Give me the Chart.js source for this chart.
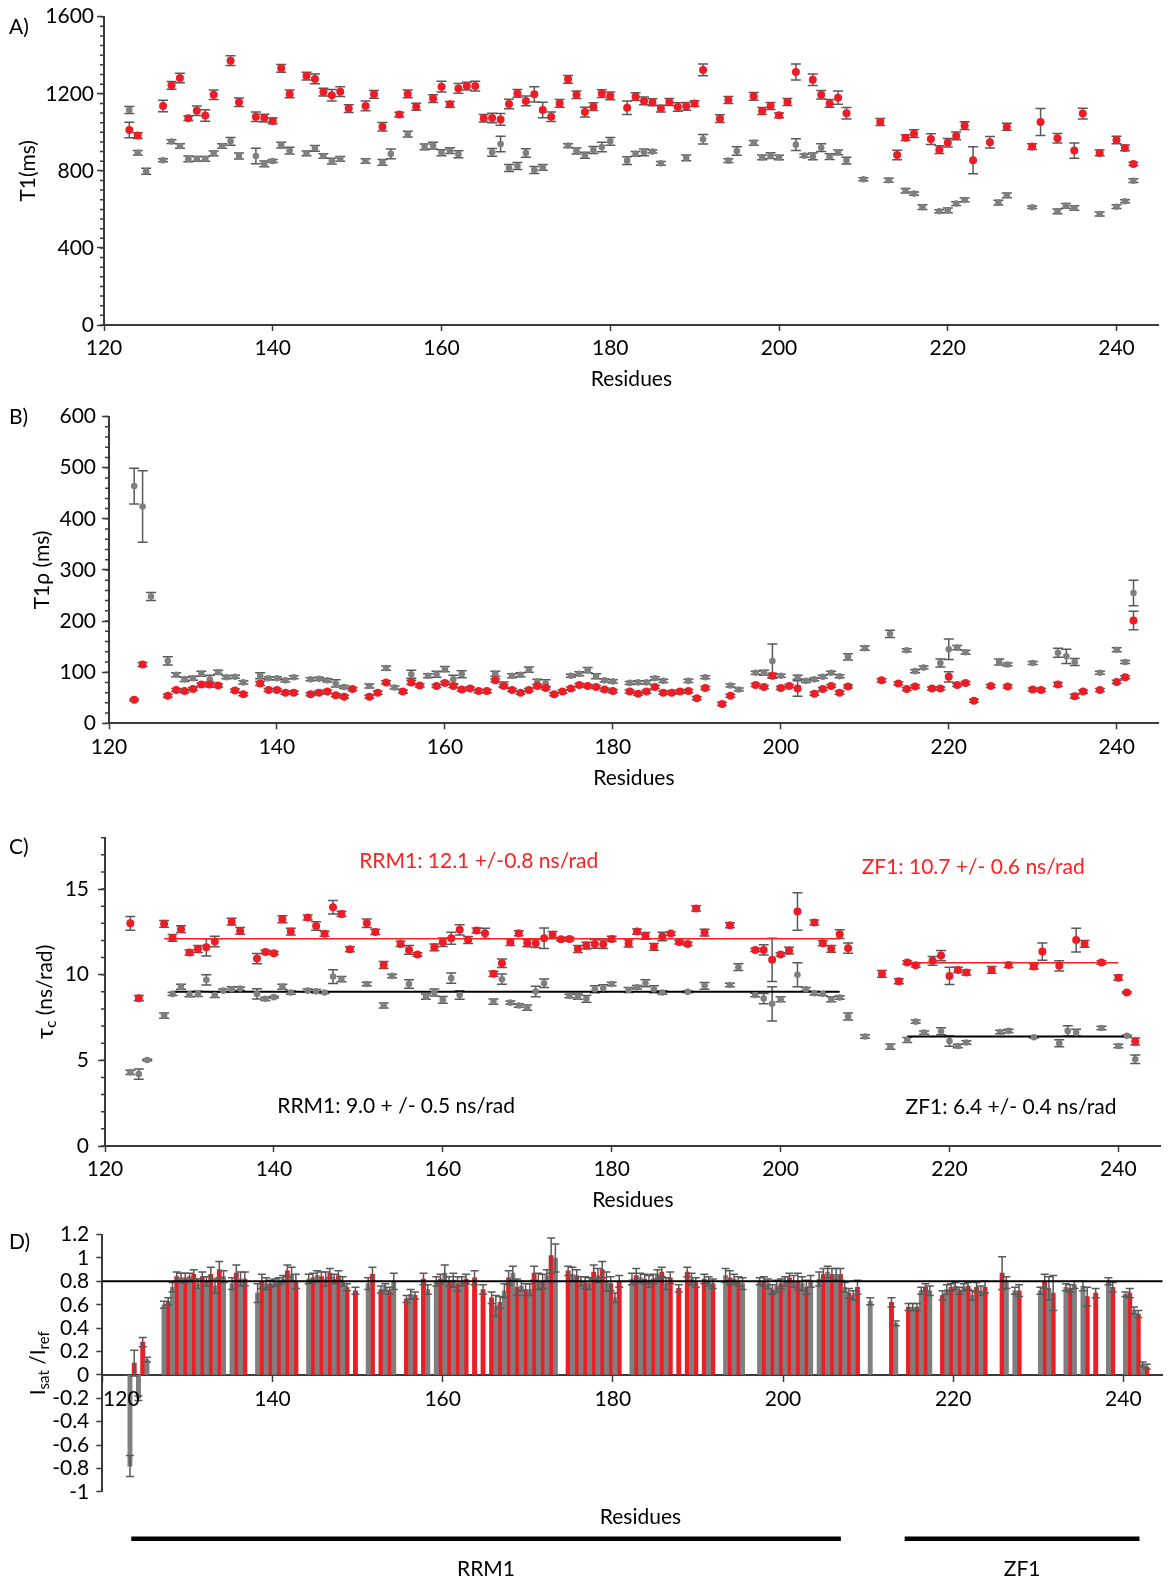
<!DOCTYPE html>
<html>
<head>
<meta charset="utf-8">
<script src="https://cdn.jsdelivr.net/npm/chart.js@4.4.1/dist/chart.umd.min.js"></script>
<style>
  body { margin: 0; background: #fff; width: 1173px; height: 1580px; position: relative; overflow: hidden; }
  canvas { position: absolute; left: 0; }
</style>
</head>
<body>
<canvas id="chartA" width="1173" height="398" style="top:0"></canvas>
<canvas id="chartB" width="1173" height="397" style="top:398px"></canvas>
<canvas id="chartC" width="1173" height="420" style="top:795px"></canvas>
<canvas id="chartD" width="1173" height="365" style="top:1215px"></canvas>
<script>
// ---- data: [residue, value, error] ----

// A) T1 (ms)
const t1Red = [
  [123,1012,40],[124,983,15],[127,1137,30],[128,1244,20],[129,1282,25],[130,1073,12],[131,1112,25],
  [132,1087,30],[133,1195,25],[135,1372,25],[136,1156,22],[138,1081,25],[139,1074,20],[140,1059,15],
  [141,1332,20],[142,1199,20],[144,1292,20],[145,1277,25],[146,1209,20],[147,1192,30],[148,1211,25],
  [149,1123,20],[151,1137,25],[152,1197,20],[153,1029,22],[155,1092,12],[156,1199,20],[157,1133,18],
  [159,1175,20],[160,1237,28],[161,1145,15],[162,1228,25],[163,1240,20],[164,1240,25],[165,1073,20],
  [166,1074,25],[167,1067,30],[168,1147,25],[169,1202,20],[170,1163,25],[171,1197,40],[172,1116,40],
  [173,1081,25],[174,1150,20],[175,1275,20],[176,1195,20],[177,1105,25],[178,1133,20],[179,1201,20],
  [180,1189,20],[182,1128,35],[183,1185,20],[184,1163,20],[185,1156,18],[186,1123,18],[187,1157,18],
  [188,1131,22],[189,1135,20],[190,1149,15],[191,1324,30],[193,1071,20],[194,1168,18],[197,1187,20],
  [198,1111,18],[199,1137,18],[200,1088,12],[201,1157,18],[202,1313,42],[204,1273,30],[205,1195,22],
  [206,1150,20],[207,1180,35],[208,1099,30],[212,1054,18],[214,882,25],[215,972,15],[216,993,20],
  [218,965,28],[219,910,20],[220,946,22],[221,981,20],[222,1035,20],[223,855,70],[225,948,30],
  [227,1029,18],[230,926,15],[231,1054,70],[233,969,25],[235,905,40],[236,1097,28],[238,893,15],
  [240,960,20],[241,919,15],[242,836,8]
];
const t1Grey = [
  [123,1116,18],[124,894,12],[125,798,15],[127,855,8],[128,952,10],[129,929,12],[130,862,15],
  [131,862,12],[132,862,12],[133,891,12],[134,929,12],[135,953,20],[136,877,15],[138,877,40],
  [139,836,15],[140,851,8],[141,934,15],[142,905,18],[144,891,12],[145,917,15],[146,877,12],
  [147,851,15],[148,862,12],[151,851,12],[153,844,15],[154,888,25],[156,991,15],[158,924,15],
  [159,931,18],[160,894,15],[161,905,15],[162,886,18],[166,896,20],[167,939,40],[168,815,18],
  [169,825,18],[170,893,22],[171,804,18],[172,818,15],[175,931,10],[176,903,15],[177,881,15],
  [178,908,18],[179,924,25],[180,953,20],[182,853,20],[183,888,12],[184,896,18],[185,900,8],
  [186,839,10],[189,867,15],[191,964,25],[194,853,10],[195,903,22],[197,945,12],[198,870,12],
  [199,879,15],[200,869,12],[202,936,30],[203,879,8],[204,875,18],[205,920,20],[206,874,15],
  [207,896,12],[208,853,18],[210,756,8],[213,751,10],[215,697,12],[216,682,8],[217,612,12],
  [219,590,8],[220,595,12],[221,630,10],[222,649,10],[226,635,12],[227,673,12],[230,611,6],
  [233,590,12],[234,618,12],[235,607,12],[238,576,10],[240,614,10],[241,642,8],[242,749,10]
];

// B) T1rho (ms)
const t1rhoRed = [
  [123,46,2],[124,115,4],[127,54,3],[128,65,3],[129,63,3],[130,67,3],[131,76,3],[132,76,5],
  [133,74,3],[135,64,3],[136,57,3],[138,78,4],[139,65,3],[140,65,3],[141,60,3],[142,60,3],
  [144,57,3],[145,60,3],[146,62,3],[147,55,3],[148,52,3],[149,67,3],[151,52,3],[152,60,3],
  [153,80,3],[155,62,3],[156,80,4],[157,74,3],[159,73,3],[160,79,3],[161,73,3],[162,66,3],
  [163,68,3],[164,63,3],[165,63,3],[166,84,3],[167,73,3],[168,65,3],[169,60,3],[170,65,3],
  [171,73,3],[172,69,3],[173,57,3],[174,62,3],[175,68,3],[176,75,3],[177,73,3],[178,71,3],
  [179,66,3],[180,63,3],[182,62,3],[183,58,3],[184,62,3],[185,71,3],[186,60,3],[187,60,3],
  [188,62,3],[189,63,3],[190,49,3],[191,69,3],[193,38,3],[194,54,3],[197,75,3],[198,71,3],
  [199,93,5],[200,69,3],[201,73,3],[202,68,15],[204,58,3],[205,67,3],[206,73,3],[207,60,3],
  [208,72,3],[212,84,3],[214,78,3],[215,67,3],[216,72,3],[218,68,3],[219,68,3],[220,91,10],
  [221,75,3],[222,79,3],[223,44,3],[225,73,3],[227,72,3],[230,66,3],[231,65,3],[233,76,4],
  [235,53,4],[236,62,3],[238,65,3],[240,81,3],[241,90,3],[242,201,18]
];
const t1rhoGrey = [
  [123,464,35],[124,424,70],[125,248,8],[127,122,8],[128,95,4],[129,86,4],[130,88,4],[131,97,5],
  [132,86,8],[133,100,4],[134,90,3],[135,91,3],[136,80,3],[138,93,6],[139,88,3],[140,88,3],
  [141,84,3],[142,90,3],[144,86,3],[145,87,3],[146,84,3],[147,78,7],[148,71,3],[151,73,4],
  [153,108,4],[154,70,3],[156,96,8],[158,93,4],[159,96,6],[160,106,5],[161,86,8],[162,96,7],
  [166,97,5],[167,76,5],[168,93,4],[169,95,4],[170,105,5],[171,81,5],[172,78,7],[175,93,3],
  [176,97,4],[177,104,5],[178,92,5],[179,84,3],[180,82,3],[182,79,3],[183,80,3],[184,80,3],
  [185,88,3],[186,83,3],[189,83,3],[191,90,3],[194,74,3],[195,66,3],[197,99,3],[198,99,5],
  [199,122,33],[200,93,3],[202,90,4],[203,83,3],[204,86,3],[205,91,3],[206,99,3],[207,92,3],
  [208,130,6],[210,147,4],[213,175,7],[215,143,3],[216,102,3],[217,109,3],[219,118,8],
  [220,145,20],[221,148,4],[222,139,4],[226,120,6],[227,115,3],[230,118,3],[233,138,9],
  [234,131,14],[235,120,7],[238,99,3],[240,144,4],[241,120,3],[242,255,25]
];

// C) tau_c (ns/rad)
const tcRed = [
  [123,13.0,0.4],[124,8.63,0.15],[127,12.97,0.2],[128,12.15,0.2],[129,12.66,0.2],[130,11.3,0.15],
  [131,11.5,0.2],[132,11.6,0.5],[133,11.94,0.3],[135,13.1,0.2],[136,12.56,0.2],[138,10.94,0.3],
  [139,11.33,0.1],[140,11.26,0.1],[141,13.24,0.2],[142,12.52,0.2],[144,13.34,0.15],[145,12.85,0.25],
  [146,12.39,0.15],[147,13.94,0.4],[148,13.55,0.15],[149,11.49,0.15],[151,13.0,0.25],[152,12.5,0.15],
  [153,10.57,0.2],[155,11.8,0.15],[156,11.45,0.25],[157,11.18,0.1],[159,11.6,0.2],[160,11.9,0.25],
  [161,12.13,0.35],[162,12.62,0.3],[163,12.03,0.2],[164,12.58,0.15],[165,12.42,0.3],[166,10.05,0.15],
  [167,10.67,0.25],[168,11.9,0.2],[169,12.42,0.15],[170,11.84,0.2],[171,11.84,0.25],[172,12.13,0.6],
  [173,12.33,0.2],[174,12.07,0.1],[175,12.09,0.1],[176,11.5,0.2],[177,11.7,0.2],[178,11.8,0.25],
  [179,11.78,0.25],[180,12.09,0.15],[182,11.82,0.2],[183,12.52,0.15],[184,12.27,0.2],[185,11.63,0.2],
  [186,12.23,0.25],[187,12.4,0.1],[188,11.9,0.1],[189,11.8,0.1],[190,13.87,0.15],[191,12.46,0.2],
  [194,12.89,0.15],[197,11.45,0.1],[198,11.45,0.3],[199,10.87,1.26],[200,11.18,0.1],[201,11.41,0.2],
  [202,13.69,1.1],[204,13.05,0.15],[205,11.84,0.15],[206,11.51,0.2],[207,12.37,0.25],[208,11.55,0.3],
  [212,10.05,0.2],[214,9.62,0.15],[215,10.71,0.1],[216,10.55,0.1],[218,10.81,0.25],[219,11.12,0.3],
  [220,9.93,0.5],[221,10.28,0.15],[222,10.13,0.15],[225,10.28,0.2],[227,10.57,0.15],[230,10.48,0.15],
  [231,11.35,0.5],[233,10.52,0.3],[235,12.02,0.7],[236,11.8,0.2],[238,10.71,0.1],[240,9.83,0.15],
  [241,8.96,0.05],[242,6.1,0.2]
];
const tcGrey = [
  [123,4.3,0.12],[124,4.2,0.3],[125,5.02,0.05],[127,7.61,0.15],[128,8.88,0.1],[129,9.3,0.15],
  [130,8.86,0.15],[131,8.88,0.15],[132,9.7,0.3],[133,8.82,0.15],[134,9.07,0.1],[135,9.15,0.15],
  [136,9.19,0.1],[138,8.88,0.3],[139,8.59,0.1],[140,8.69,0.05],[141,9.3,0.15],[142,8.96,0.1],
  [144,9.07,0.1],[145,9.03,0.1],[146,8.96,0.05],[147,9.89,0.4],[148,9.74,0.15],[151,9.46,0.1],
  [153,8.2,0.15],[154,9.93,0.1],[156,9.46,0.25],[158,8.72,0.15],[159,8.96,0.2],[160,8.53,0.2],
  [161,9.8,0.3],[162,8.82,0.25],[166,8.43,0.15],[167,9.74,0.3],[168,8.37,0.1],[169,8.2,0.1],
  [170,8.08,0.15],[171,9.02,0.3],[172,9.5,0.25],[175,8.76,0.1],[176,8.72,0.15],[177,8.59,0.2],
  [178,9.15,0.2],[179,9.21,0.2],[180,9.46,0.1],[182,9.11,0.15],[183,9.27,0.1],[184,9.5,0.2],
  [185,9.15,0.2],[186,8.96,0.1],[189,9.0,0.05],[191,9.35,0.2],[194,9.4,0.1],[195,10.44,0.2],
  [197,8.82,0.1],[198,8.61,0.3],[199,8.3,1.0],[200,8.57,0.15],[202,10.0,0.7],[203,9.15,0.1],
  [204,8.92,0.1],[205,8.88,0.1],[206,8.57,0.15],[207,8.67,0.1],[208,7.56,0.2],[210,6.39,0.1],
  [213,5.8,0.15],[215,6.19,0.15],[216,7.26,0.1],[217,6.62,0.1],[219,6.7,0.2],[220,6.13,0.3],
  [221,5.84,0.1],[222,6.04,0.1],[226,6.66,0.1],[227,6.72,0.1],[230,6.35,0.05],[233,6.0,0.2],
  [234,6.72,0.3],[235,6.62,0.2],[238,6.89,0.1],[240,5.84,0.1],[241,6.43,0.05],[242,5.06,0.25]
];
// mean fits: [first residue, last residue, value]
const tcFitRed = [[127, 207, 12.1], [215, 240, 10.7]];
const tcFitGrey = [[128, 207, 9.0], [215, 241, 6.4]];
const tcNotes = [
  'RRM1: 12.1 +/-0.8 ns/rad', 'ZF1: 10.7 +/- 0.6 ns/rad',
  'RRM1: 9.0 + /- 0.5 ns/rad', 'ZF1: 6.4 +/- 0.4 ns/rad'
];

// D) Isat/Iref
const dGrey = [
  [123,-0.78,0.09],[124,-0.20,0.02],[125,0.13,0.02],[127,0.60,0.03],[128,0.75,0.04],[129,0.83,0.04],
  [130,0.84,0.03],[131,0.78,0.04],[132,0.80,0.04],[133,0.76,0.06],[134,0.84,0.05],[135,0.78,0.05],
  [136,0.82,0.06],[138,0.70,0.08],[139,0.78,0.05],[140,0.79,0.03],[141,0.82,0.03],[142,0.86,0.06],
  [144,0.82,0.04],[145,0.85,0.04],[146,0.82,0.06],[147,0.82,0.04],[148,0.80,0.04],[151,0.78,0.05],
  [153,0.75,0.03],[154,0.80,0.07],[156,0.69,0.04],[158,0.73,0.04],[159,0.80,0.04],[160,0.87,0.07],
  [161,0.81,0.06],[162,0.80,0.04],[166,0.59,0.09],[167,0.72,0.06],[168,0.87,0.06],[169,0.76,0.04],
  [170,0.73,0.05],[171,0.80,0.07],[172,0.85,0.05],[173,1.00,0.12],[175,0.86,0.06],[176,0.80,0.04],
  [177,0.78,0.05],[178,0.85,0.06],[179,0.80,0.08],[180,0.66,0.04],[182,0.82,0.05],[183,0.83,0.04],
  [184,0.80,0.05],[185,0.86,0.04],[186,0.78,0.05],[189,0.82,0.05],[191,0.80,0.04],[193,0.85,0.06],
  [194,0.82,0.04],[195,0.78,0.05],[197,0.80,0.03],[198,0.78,0.04],[199,0.76,0.05],[200,0.80,0.04],
  [201,0.80,0.05],[202,0.78,0.06],[203,0.80,0.05],[204,0.82,0.06],[205,0.88,0.05],[206,0.86,0.05],
  [207,0.75,0.04],[208,0.68,0.04],[210,0.63,0.03],[213,0.44,0.02],[215,0.58,0.03],[216,0.72,0.03],
  [217,0.72,0.04],[219,0.73,0.04],[220,0.76,0.03],[221,0.75,0.03],[222,0.68,0.04],[223,0.72,0.04],
  [226,0.79,0.05],[227,0.72,0.03],[230,0.72,0.03],[231,0.74,0.10],[233,0.75,0.03],[234,0.77,0.03],
  [235,0.76,0.04],[238,0.80,0.03],[240,0.69,0.02],[241,0.55,0.03],[242,0.09,0.02]
];
const dRed = [
  [123,0.10,0.11],[124,0.28,0.04],[127,0.63,0.03],[128,0.84,0.04],[129,0.83,0.04],[130,0.86,0.04],
  [131,0.84,0.04],[132,0.86,0.06],[133,0.90,0.07],[135,0.87,0.07],[136,0.82,0.06],[138,0.80,0.06],
  [139,0.78,0.03],[140,0.80,0.03],[141,0.89,0.05],[142,0.80,0.06],[144,0.83,0.04],[145,0.84,0.04],
  [146,0.87,0.04],[147,0.85,0.04],[148,0.75,0.03],[149,0.72,0.03],[151,0.86,0.06],[152,0.73,0.03],
  [153,0.72,0.03],[155,0.65,0.03],[156,0.68,0.03],[157,0.82,0.05],[159,0.82,0.04],[160,0.80,0.04],
  [161,0.78,0.06],[162,0.82,0.04],[163,0.83,0.06],[164,0.73,0.04],[165,0.66,0.05],[166,0.62,0.05],
  [167,0.83,0.06],[168,0.75,0.07],[169,0.73,0.05],[170,0.87,0.06],[171,0.80,0.06],[172,1.02,0.15],
  [174,0.89,0.04],[175,0.85,0.05],[176,0.79,0.05],[177,0.88,0.06],[178,0.90,0.07],[179,0.78,0.06],
  [180,0.80,0.05],[182,0.85,0.06],[183,0.82,0.04],[184,0.82,0.04],[185,0.88,0.04],[186,0.83,0.05],
  [187,0.74,0.03],[188,0.88,0.04],[189,0.79,0.04],[190,0.82,0.04],[191,0.78,0.04],[193,0.83,0.06],
  [194,0.80,0.04],[197,0.80,0.04],[198,0.73,0.04],[199,0.78,0.04],[200,0.83,0.04],[201,0.80,0.07],
  [202,0.75,0.06],[204,0.86,0.05],[205,0.86,0.05],[206,0.86,0.05],[207,0.70,0.04],[208,0.75,0.06],
  [212,0.62,0.04],[214,0.58,0.03],[215,0.58,0.03],[216,0.75,0.03],[218,0.68,0.04],[219,0.75,0.03],
  [220,0.72,0.03],[221,0.76,0.03],[222,0.75,0.04],[223,0.75,0.05],[225,0.87,0.14],[227,0.72,0.05],
  [230,0.80,0.06],[231,0.70,0.15],[233,0.74,0.03],[235,0.67,0.08],[236,0.70,0.04],[238,0.75,0.04],
  [240,0.70,0.04],[241,0.52,0.03],[242,0.07,0.02]
];
const dThreshold = 0.8;
// domains: [label, first residue, last residue]
const domains = [['RRM1', 123.4, 206.8], ['ZF1', 214.3, 241.9]];

// ---- styling ----
const RED = '#ee1c24', GREY = '#7f7f7f', ERR = '#595959', AXIS = '#3a3a3a';
const FONT = 'Lato, "DejaVu Sans", sans-serif';
Chart.defaults.font.family = FONT;
Chart.defaults.font.size = 21;
Chart.defaults.color = '#000';

const toXY = (rows, dx = 0) => rows.map(([r, v]) => ({x: r + dx, y: v}));
const errs = rows => rows.map(r => r[2]);

/**
 * Error bars drawn from dataset.errors through the y scale
 */
function errorBars(cap, after) {
  const draw = chart => {
    const {ctx} = chart;
    const ys = chart.scales.y;
    ctx.save();
    ctx.strokeStyle = ERR;
    ctx.lineWidth = 1.5;
    chart.data.datasets.forEach((ds, i) => {
      if (!ds.errors) return;
      chart.getDatasetMeta(i).data.forEach((el, j) => {
        const e = ds.errors[j];
        if (!e) return;
        const v = ds.data[j].y;
        const t = ys.getPixelForValue(v + e), b = ys.getPixelForValue(v - e), x = el.x;
        ctx.beginPath();
        ctx.moveTo(x, t); ctx.lineTo(x, b);
        ctx.moveTo(x - cap, t); ctx.lineTo(x + cap, t);
        ctx.moveTo(x - cap, b); ctx.lineTo(x + cap, b);
        ctx.stroke();
      });
    });
    ctx.restore();
  };
  return after ? {id: 'errorBars', afterDatasetsDraw: draw} : {id: 'errorBars', beforeDatasetsDraw: draw};
}

// rotated axis title made of parts (for subscripts)
function drawRotatedTitle(ctx, cx, cy, parts) {
  ctx.save();
  ctx.translate(cx, cy);
  ctx.rotate(-Math.PI / 2);
  ctx.textBaseline = 'middle';
  ctx.textAlign = 'left';
  ctx.fillStyle = '#000';
  const fontFor = p => `${p.size || 21}px ${FONT}`;
  let total = 0;
  parts.forEach(p => { ctx.font = fontFor(p); total += ctx.measureText(p.t).width; });
  let x = -total / 2;
  parts.forEach(p => {
    ctx.font = fontFor(p);
    ctx.fillText(p.t, x, p.dy || 0);
    x += ctx.measureText(p.t).width;
  });
  ctx.restore();
}

/**
 * Panel label, y title, minor y ticks and extras
 */
function decor(o) {
  return {
    id: 'decor',
    afterDraw(chart) {
      const {ctx, chartArea: a} = chart;
      const y = chart.scales.y;
      ctx.save();
      if (o.minor) {
        ctx.strokeStyle = AXIS;
        ctx.lineWidth = 1.5;
        ctx.beginPath();
        for (let k = 0; y.min + k * o.minor <= y.max + 1e-9; k++) {
          const p = y.getPixelForValue(y.min + k * o.minor);
          ctx.moveTo(a.left - 4, p);
          ctx.lineTo(a.left, p);
        }
        ctx.stroke();
      }
      ctx.fillStyle = '#000';
      ctx.font = `21px ${FONT}`;
      ctx.textBaseline = 'middle';
      ctx.textAlign = 'left';
      ctx.fillText(o.tag, 9, o.tagY);
      drawRotatedTitle(ctx, o.titleX, (a.top + a.bottom) / 2, o.title);
      if (o.extra) o.extra(chart, ctx);
      ctx.restore();
    }
  };
}

function residueAxis(height, titlePad) {
  return {
    type: 'linear', min: 120, max: 245,
    ticks: {stepSize: 20, includeBounds: false, padding: 5, maxRotation: 0, autoSkip: false},
    grid: {drawOnChartArea: false, tickLength: 6, tickColor: AXIS, tickWidth: 1.5},
    border: {color: AXIS, width: 2},
    title: {display: true, text: 'Residues', padding: {top: 0, bottom: titlePad}},
    afterFit(scale) { scale.height = height; }
  };
}

function valueAxis(min, max, step, width, pad) {
  return {
    type: 'linear', min, max,
    ticks: {stepSize: step, includeBounds: false, padding: pad, autoSkip: false, callback: v => String(v)},
    grid: {drawOnChartArea: false, tickLength: 7, tickColor: AXIS, tickWidth: 1.5},
    border: {color: AXIS, width: 2},
    afterFit(scale) { scale.width = width; }
  };
}

function scatterPanel(id, o) {
  return new Chart(document.getElementById(id), {
    type: 'scatter',
    data: {
      datasets: [
        {data: toXY(o.red), errors: errs(o.red), backgroundColor: RED, pointRadius: 4, pointBorderWidth: 0},
        {data: toXY(o.grey), errors: errs(o.grey), backgroundColor: GREY, pointRadius: 3.3, pointBorderWidth: 0}
      ].concat(o.lines || [])
    },
    options: {
      responsive: false, animation: false, devicePixelRatio: 1, events: [],
      layout: {padding: o.padding},
      plugins: {legend: {display: false}, tooltip: {enabled: false}},
      scales: {x: residueAxis(o.xHeight, o.titlePad), y: o.y}
    },
    plugins: [errorBars(5, false), decor(o)]
  });
}

// A
scatterPanel('chartA', {
  red: t1Red, grey: t1Grey,
  padding: {top: 16.7, right: 14.3, left: 0, bottom: 0}, xHeight: 73, titlePad: 6.4,
  y: valueAxis(0, 1600, 400, 104, 3),
  minor: 50, tag: 'A)', tagY: 27.5, titleX: 28.7, title: [{t: 'T1(ms)'}]
});

// B
scatterPanel('chartB', {
  red: t1rhoRed, grey: t1rhoGrey,
  padding: {top: 17, right: 14.3, left: 0, bottom: 0}, xHeight: 71.7, titlePad: 4.4,
  y: valueAxis(0, 600, 100, 109, 6),
  minor: 20, tag: 'B)', tagY: 19, titleX: 42, title: [{t: 'T1\u03c1 (ms)'}]
});

// C
const fitLine = (seg, color, w) => ({
  type: 'line', data: [{x: seg[0], y: seg[2]}, {x: seg[1], y: seg[2]}],
  borderColor: color, borderWidth: w, pointRadius: 0, fill: false
});
scatterPanel('chartC', {
  red: tcRed, grey: tcGrey,
  lines: tcFitRed.map(s => fitLine(s, '#ff2020', 1.6)).concat(tcFitGrey.map(s => fitLine(s, '#000', 2))),
  padding: {top: 42.7, right: 12.4, left: 0, bottom: 0}, xHeight: 69, titlePad: 2.4,
  y: valueAxis(0, 18, 5, 105, 9),
  minor: 1, tag: 'C)', tagY: 52, titleX: 45,
  title: [{t: '\u03c4', size: 24}, {t: 'c', size: 15, dy: 6}, {t: ' (ns/rad)'}],
  extra(chart, ctx) {
    const xs = chart.scales.x, ys = chart.scales.y;
    const spots = [[150.1, 16.6, '#ff2020'], [209.6, 16.3, '#ff2020'], [140.4, 2.33, '#000'], [214.8, 2.28, '#000']];
    ctx.font = `21px ${FONT}`;
    ctx.textAlign = 'left';
    ctx.textBaseline = 'middle';
    tcNotes.forEach((t, i) => {
      ctx.fillStyle = spots[i][2];
      ctx.fillText(t, xs.getPixelForValue(spots[i][0]), ys.getPixelForValue(spots[i][1]));
    });
  }
});

// D
new Chart(document.getElementById('chartD'), {
  type: 'bar',
  data: {
    datasets: [
      {data: toXY(dGrey, 0.25), errors: errs(dGrey), backgroundColor: GREY, grouped: false,
       barPercentage: 1, categoryPercentage: 1, borderWidth: 0},
      {data: toXY(dRed, 0.75), errors: errs(dRed), backgroundColor: RED, grouped: false,
       barPercentage: 1, categoryPercentage: 1, borderWidth: 0}
    ]
  },
  options: {
    responsive: false, animation: false, devicePixelRatio: 1, events: [],
    layout: {padding: {top: 18.3, right: 10.5, left: 0, bottom: 88.2}},
    plugins: {legend: {display: false}, tooltip: {enabled: false}},
    scales: {
      x: {
        type: 'linear', position: {y: 0}, min: 120, max: 244.6, offset: false,
        ticks: {stepSize: 20, includeBounds: false, padding: 6, maxRotation: 0, autoSkip: false,
                callback: v => (v === 120 ? '' : v)},
        grid: {drawOnChartArea: false, offset: false, tickLength: 6, tickColor: AXIS, tickWidth: 1.5},
        border: {color: AXIS, width: 2}
      },
      y: {
        type: 'linear', min: -1, max: 1.2,
        ticks: {stepSize: 0.2, padding: 7, autoSkip: false, callback: v => String(+v.toFixed(1))},
        grid: {drawOnChartArea: false, tickLength: 6, tickColor: AXIS, tickWidth: 1.5},
        border: {color: AXIS, width: 2},
        afterFit(scale) { scale.width = 102.3; }
      }
    }
  },
  plugins: [
    errorBars(4, true),
    decor({
      tag: 'D)', tagY: 27, titleX: 38,
      title: [{t: 'I'}, {t: 'sat', size: 15, dy: 6}, {t: ' /I'}, {t: 'ref', size: 15, dy: 6}],
      extra(chart, ctx) {
        const xs = chart.scales.x, ys = chart.scales.y, a = chart.chartArea;
        const zero = ys.getPixelForValue(0);
        // threshold line
        ctx.strokeStyle = '#000';
        ctx.lineWidth = 2;
        ctx.beginPath();
        ctx.moveTo(a.left, ys.getPixelForValue(dThreshold));
        ctx.lineTo(a.right, ys.getPixelForValue(dThreshold));
        ctx.stroke();
        ctx.fillStyle = '#000';
        ctx.font = `21px ${FONT}`;
        ctx.textAlign = 'center';
        ctx.textBaseline = 'middle';
        ctx.fillText('120', xs.getPixelForValue(120) + 19, zero + 24.4);
        ctx.fillText('Residues', (a.left + a.right) / 2 + 8, a.bottom + 25);
        // domain bars
        ctx.lineWidth = 4.5;
        domains.forEach(([name, s, e]) => {
          const x1 = xs.getPixelForValue(s), x2 = xs.getPixelForValue(e);
          ctx.beginPath();
          ctx.moveTo(x1, a.bottom + 47);
          ctx.lineTo(x2, a.bottom + 47);
          ctx.stroke();
          ctx.fillText(name, (x1 + x2) / 2, a.bottom + 77);
        });
      }
    })
  ]
});
</script>
</body>
</html>
